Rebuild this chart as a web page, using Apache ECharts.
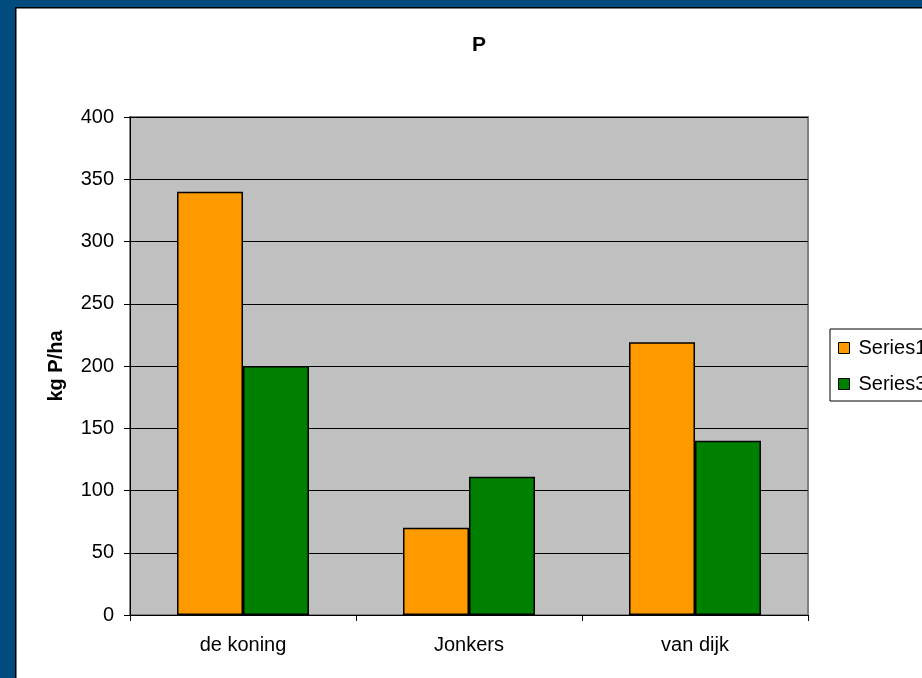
<!DOCTYPE html>
<html>
<head>
<meta charset="utf-8">
<script src="https://cdn.jsdelivr.net/npm/echarts@6/dist/echarts.min.js"></script>
<style>
html,body{margin:0;padding:0;background:#fff;}
#c{width:922px;height:678px;}
</style>
</head>
<body>
<div id="c"></div>
<script>
const categories = ['de koning', 'Jonkers', 'van dijk'];
const series1 = [340, 70, 219];
const series3 = [200, 111, 140];
const yTicks = { min: 0, max: 400, interval: 50 };

const chart = echarts.init(document.getElementById('c'));
const font = 'Liberation Sans, Arial, sans-serif';
chart.setOption({
  animation: false,
  backgroundColor: '#ffffff',
  title: {
    text: 'P', left: 472, top: 35, padding: 0,
    textStyle: { fontFamily: font, fontSize: 21, fontWeight: 'bold', color: '#000' }
  },
  graphic: [
    { type: 'rect', left: 0, top: 0, shape: { width: 922, height: 7 }, style: { fill: '#004C7E' }, z: 100 },
    { type: 'rect', left: 0, top: 0, shape: { width: 15, height: 678 }, style: { fill: '#004C7E' }, z: 100 },
    { type: 'rect', left: 15, top: 7, shape: { width: 907, height: 1.5 }, style: { fill: '#000' }, z: 100 },
    { type: 'rect', left: 15, top: 7, shape: { width: 1.5, height: 671 }, style: { fill: '#000' }, z: 100 }
  ],
  legend: {
    left: 830, top: 329, orient: 'vertical',
    borderColor: '#000', borderWidth: 1,
    padding: [9, 20, 7, 8], itemGap: 16,
    itemWidth: 11, itemHeight: 11,
    icon: 'rect',
    itemStyle: { borderColor: '#000', borderWidth: 1 },
    textStyle: { fontFamily: font, fontSize: 20, color: '#000', padding: [0, 0, 0, 4] },
    data: ['Series1', 'Series3']
  },
  grid: {
    left: 130, top: 117, width: 678, height: 498,
    show: true, backgroundColor: '#C0C0C0', borderColor: '#808080', borderWidth: 2
  },
  xAxis: {
    type: 'category', data: categories,
    axisLine: { lineStyle: { color: '#000', width: 1 } },
    axisTick: { show: true, length: 6, alignWithLabel: false, lineStyle: { color: '#000' } },
    axisLabel: { fontFamily: font, fontSize: 20, color: '#000', margin: 20 }
  },
  yAxis: {
    type: 'value', min: yTicks.min, max: yTicks.max, interval: yTicks.interval,
    name: 'kg P/ha', nameLocation: 'middle', nameGap: 64, nameRotate: 90,
    nameTextStyle: { fontFamily: font, fontSize: 20, fontWeight: 'bold', color: '#000' },
    axisLine: { show: true, lineStyle: { color: '#000', width: 1 } },
    axisTick: { show: true, length: 6, lineStyle: { color: '#000' } },
    axisLabel: { fontFamily: font, fontSize: 20, color: '#000', margin: 16 },
    splitLine: { show: true, lineStyle: { color: '#000', width: 1 } }
  },
  series: [
    { name: 'Series1', type: 'bar', data: series1, barGap: '0%', barCategoryGap: '41.6%',
      itemStyle: { color: '#FF9900', borderColor: '#000', borderWidth: 1.5 } },
    { name: 'Series3', type: 'bar', data: series3,
      itemStyle: { color: '#008000', borderColor: '#000', borderWidth: 1.5 } }
  ]
});
</script>
</body>
</html>
